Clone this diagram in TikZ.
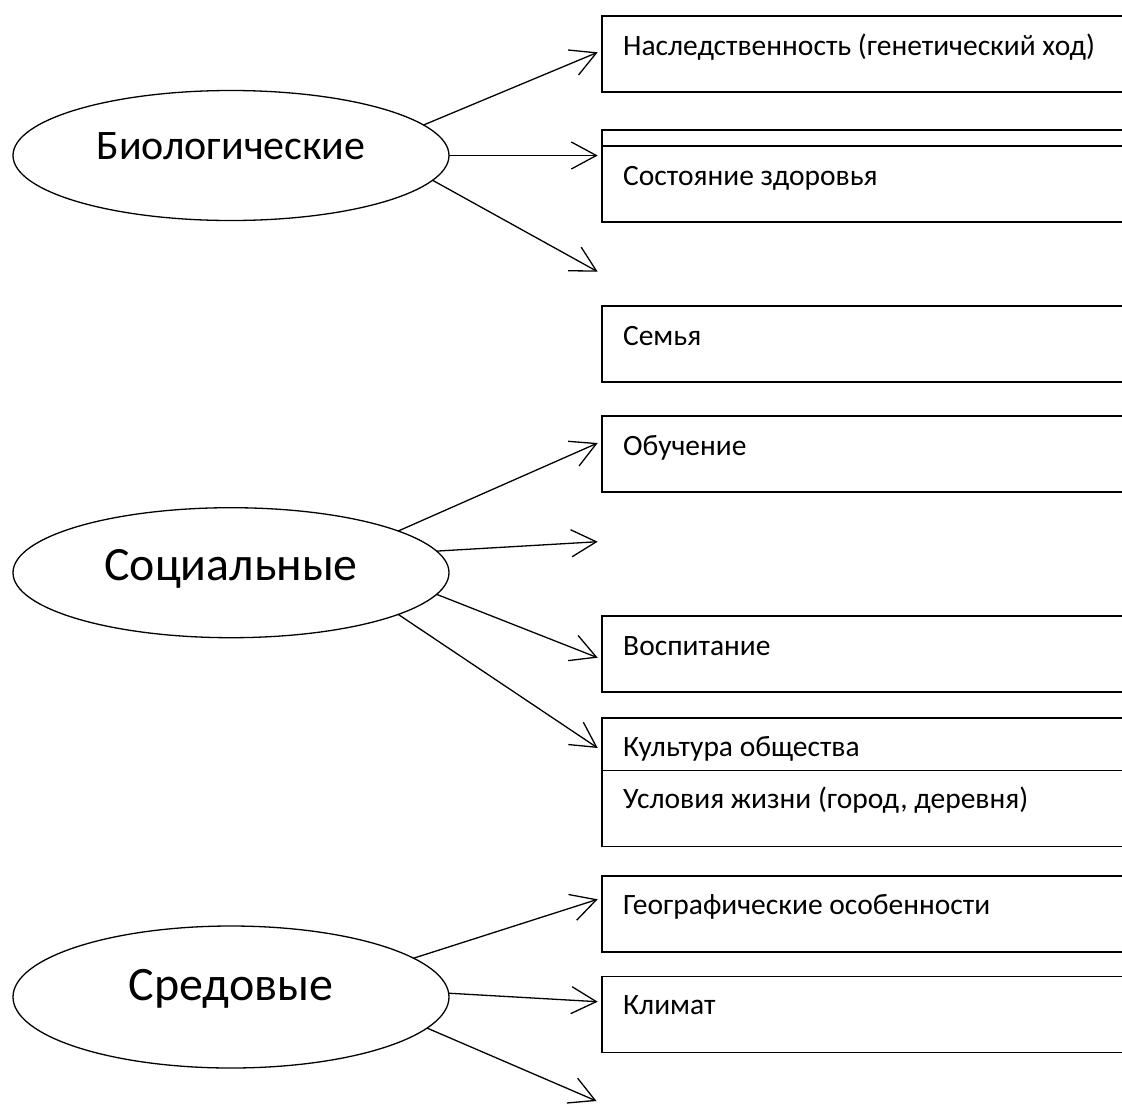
\documentclass[tikz,border=0pt]{standalone}
\usepackage{fontspec}
\setmainfont{Carlito}
\usetikzlibrary{arrows.meta,shapes.geometric}
\begin{document}
\begin{tikzpicture}[x=1pt,y=-1pt,
  ell/.style={draw, ellipse, line width=1.3pt, minimum width=436pt, inner sep=0pt, outer sep=0pt},
  boxnode/.style={draw, rectangle, line width=1.8pt, fill=white, anchor=north west, minimum width=560pt, minimum height=76pt, inner sep=0pt, outer sep=0pt},
  boxtext/.style={anchor=base west, inner sep=0pt, font=\fontsize{29.5}{35}\selectfont},
  elltext/.style={anchor=base, inner sep=0pt},
  arr/.style={line width=1.3pt, -{Straight Barb[length=25pt,width=27pt]}}
]
\clip (0,0) rectangle (1122,1104);
\fill[white] (0,0) rectangle (1122,1104);

% ellipses
\node[ell, minimum height=130pt] (e1) at (231,155.5) {};
\node[elltext, font=\fontsize{42}{50}\selectfont] (l1) at (231,159) {Биологические};
\node[ell, minimum height=130pt] (e2) at (231,572.7) {};
\node[elltext, font=\fontsize{47.8}{57}\selectfont] (l2) at (231,580) {Социальные};
\node[ell, minimum height=142pt] (e3) at (231,997) {};
\node[elltext, font=\fontsize{48}{58}\selectfont] (l3) at (231,1000.7) {Средовые};

% boxes
\node[boxnode] (b1) at (602,15.7) {};
\node[boxtext] (x1) at (623,55) {Наследственность (генетический ход)};
\node[boxnode] (b2a) at (602,130) {};
\node[boxnode] (b2) at (602,145.7) {};
\node[boxtext] (x2) at (623,185) {Состояние здоровья};
\node[boxnode] (b3) at (602,305.7) {};
\node[boxtext] (x3) at (623,345) {Семья};
\node[boxnode] (b4) at (602,416) {};
\node[boxtext] (x4) at (623,455) {Обучение};
\node[boxnode] (b5) at (602,616) {};
\node[boxtext] (x5) at (623,655) {Воспитание};
\node[boxnode] (b6a) at (602,718.3) {};
\node[boxtext] (x6a) at (623,756.7) {Культура общества};
\node[boxnode] (b6) at (602,770.5) {};
\node[boxtext] (x6) at (623,808) {Условия жизни (город, деревня)};
\node[boxnode] (b7) at (602,875.7) {};
\node[boxtext] (x7) at (623,914) {Географические особенности};
\node[boxnode] (b8) at (602,976.5) {};
\node[boxtext] (x8) at (623,1014) {Климат};

% arrow tips
\coordinate (t11) at (597.7,52.3);
\coordinate (t12) at (597.7,155.5);
\coordinate (t13) at (597.7,271.7);
\coordinate (t21) at (597.7,443);
\coordinate (t22) at (597.7,541.7);
\coordinate (t23) at (597.7,657.7);
\coordinate (t24) at (597.7,748);
\coordinate (t31) at (597.7,899.3);
\coordinate (t32) at (597.7,1001.7);
\coordinate (t33) at (596.5,1101);

% arrows
\draw[arr] (e1.9.5) -- (t11);
\draw[arr] (e1.east) -- (t12);
\draw[arr] (e1.-7) -- (t13);
\draw[arr] (e2.14.4) -- (t21);
\draw[arr] (e2.6.0) -- (t22);
\draw[arr] (e2.-6.45) -- (t23);
\draw[arr] (e2.-14.3) -- (t24);
\draw[arr] (e3.12.1) -- (t31);
\draw[arr] (e3.1.6) -- (t32);
\draw[arr] (e3.-9.75) -- (t33);
\end{tikzpicture}
\end{document}
